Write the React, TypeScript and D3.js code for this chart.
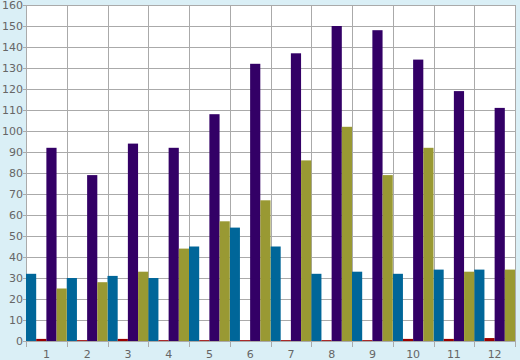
import React from "react";
import * as d3 from "d3";

// ── Data ──────────────────────────────────────────────────────────────────────

const CATEGORIES = ["1", "2", "3", "4", "5", "6", "7", "8", "9", "10", "11", "12"];
const SERIES_KEYS = ["blue", "red", "purple", "olive"];
const BLUE = [32, 30, 31, 30, 45, 54, 45, 32, 33, 32, 34, 34];
const RED = [1, 0.4, 1, 0.4, 0.4, 0.4, 0.4, 0.4, 0.4, 1, 1, 1.4];
const PURPLE = [92, 79, 94, 92, 108, 132, 137, 150, 148, 134, 119, 111];
const OLIVE = [25, 28, 33, 44, 57, 67, 86, 102, 79, 92, 33, 34];
const Y_TICKS = [0, 10, 20, 30, 40, 50, 60, 70, 80, 90, 100, 110, 120, 130, 140, 150, 160];

const SERIES_VALUES: Record<string, number[]> = { blue: BLUE, red: RED, purple: PURPLE, olive: OLIVE };
const COLORS: Record<string, string> = {
  blue: "#006699",
  red: "#990000",
  purple: "#330066",
  olive: "#999933",
};

// ── Layout ────────────────────────────────────────────────────────────────────

const W = 520;
const H = 360;
const PLOT = { left: 26, right: 515, top: 5, bottom: 341 };
const GRID = "#aaaaaa";
const TEXT = "#666666";
const FONT = "'DejaVu Sans', Verdana, sans-serif";

export default function App() {
  const x = d3.scaleBand().domain(CATEGORIES).range([PLOT.left, PLOT.right]).padding(0);
  const xSub = d3.scaleBand().domain(SERIES_KEYS).range([0, x.bandwidth()]).padding(0);
  const y = d3.scaleLinear().domain([0, 160]).range([PLOT.bottom, PLOT.top]);

  const boundaries = CATEGORIES.map((c) => x(c) ?? 0).concat([PLOT.right]);

  return (
    <svg
      width={W}
      height={H}
      style={{ position: "fixed", left: 0, top: 0, display: "block" }}
      fontFamily={FONT}
    >
      <rect x={0} y={0} width={W} height={H} fill="#daeff6" />
      <rect
        x={PLOT.left}
        y={PLOT.top}
        width={PLOT.right - PLOT.left}
        height={PLOT.bottom - PLOT.top}
        fill="#ffffff"
      />

      {/* horizontal grid + y ticks */}
      {Y_TICKS.map((t) => (
        <g key={`y${t}`}>
          <line
            x1={PLOT.left - 3}
            x2={PLOT.right}
            y1={Math.round(y(t)) + 0.5}
            y2={Math.round(y(t)) + 0.5}
            stroke={GRID}
            strokeWidth={1}
          />
          <text
            x={PLOT.left - 3}
            y={y(t)}
            dy="0.35em"
            textAnchor="end"
            fontSize={11}
            fill={TEXT}
          >
            {t}
          </text>
        </g>
      ))}

      {/* vertical grid + x ticks */}
      {boundaries.map((bx, i) => (
        <line
          key={`v${i}`}
          x1={Math.round(bx) + 0.5}
          x2={Math.round(bx) + 0.5}
          y1={PLOT.top}
          y2={PLOT.bottom + 6}
          stroke={GRID}
          strokeWidth={1}
        />
      ))}

      {/* bars */}
      {SERIES_KEYS.map((key) => (
        <g key={key} fill={COLORS[key]}>
          {CATEGORIES.map((c, i) => {
            const v = SERIES_VALUES[key][i];
            const bx = (x(c) ?? 0) + (xSub(key) ?? 0);
            return (
              <rect
                key={c}
                x={bx}
                y={y(v)}
                width={xSub.bandwidth()}
                height={y(0) - y(v)}
              />
            );
          })}
        </g>
      ))}

      {/* category labels */}
      {CATEGORIES.map((c) => (
        <text
          key={`l${c}`}
          x={(x(c) ?? 0) + x.bandwidth() / 2}
          y={354}
          dy="0.35em"
          textAnchor="middle"
          fontSize={11}
          fill={TEXT}
        >
          {c}
        </text>
      ))}
    </svg>
  );
}
